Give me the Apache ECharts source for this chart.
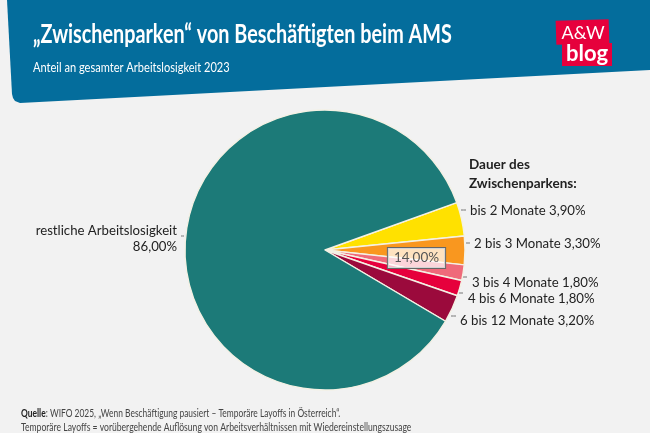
<!DOCTYPE html>
<html>
<head>
<meta charset="utf-8">
<script src="https://cdn.jsdelivr.net/npm/echarts@6/dist/echarts.min.js"></script>
<style>
html,body{margin:0;padding:0;background:#f2f2f2;}
#main{width:650px;height:433px;}
</style>
</head>
<body>
<div id="main"></div>
<script>
var categories = ['bis 2 Monate','2 bis 3 Monate','3 bis 4 Monate','4 bis 6 Monate','6 bis 12 Monate','restliche Arbeitslosigkeit'];
var shares = [3.9,3.3,1.8,1.8,3.2,86];
var colors = ['#ffe100','#f9971f','#ef6a7a','#e6003c','#9b0a3c','#1c7a78'];
var groupShare = 14;

var bodyFont = 'Lato';

// label anchor and tick per slice, in page pixels
var labelSpots = [
	{x:470,y:211,tick:[461,466,210]},
	{x:474,y:244,tick:[466,470,243]},
	{x:472,y:283,tick:[463,467,277]},
	{x:468,y:299,tick:[459,463,293]},
	{x:460,y:321,tick:[451,456,316]},
	{x:177,y:239,align:'right',tick:[181,184,236]}
];

function pct(v){
	return v.toFixed(2).replace('.',',') + '%';
}

var pieData = categories.map(function(name,i){
	return {
		name:name,
		value:shares[i],
		itemStyle:{color:colors[i]},
		label:{align:i==5 ? 'right' : 'left'}
	};
});

var chart = echarts.init(document.getElementById('main'));
chart.setOption({
	animation:false,
	backgroundColor:'#f2f2f2',
	series:[{
		type:'pie',
		center:[325,250],
		radius:[0,140],
		startAngle:19.8,
		clockwise:true,
		data:pieData,
		itemStyle:{borderColor:'#f4f1e4',borderWidth:1.4},
		emphasis:{disabled:true},
		label:{
			show:true,
			position:'outside',
			color:'#222',
			fontFamily:bodyFont,
			fontSize:13.2,
			lineHeight:16,
			formatter:function(p){
				return p.name + (p.dataIndex==5 ? '\n' : ' ') + pct(p.value);
			}
		},
		labelLine:{show:true,length:3,length2:3,lineStyle:{color:'#777',width:1}},
		labelLayout:function(p){
			var s = labelSpots[p.dataIndex];
			return {
				x:s.x,
				y:s.y,
				align:s.align || 'left',
				verticalAlign:'middle',
				labelLinePoints:[[s.tick[0],s.tick[2]],[(s.tick[0]+s.tick[1])/2,s.tick[2]],[s.tick[1],s.tick[2]]]
			};
		}
	}],
	graphic:[{
		type:'polygon',
		z:1,
		shape:{points:[[7,0],[12,94],[13,98],[15,101],[20,103],[650,70],[650,0]]},
		style:{fill:'#046d9c'}
	},{
		// no narrow font installed, so the header and footer text is squeezed
		type:'text',
		z:6,
		x:33,y:34,scaleX:0.747,
		style:{text:'„Zwischenparken“ von Beschäftigten beim AMS',fill:'#fff',font:'bold 26.5px '+bodyFont,verticalAlign:'middle'}
	},{
		type:'text',
		z:6,
		x:33,y:67,scaleX:0.79,
		style:{text:'Anteil an gesamter Arbeitslosigkeit 2023',fill:'#fff',font:'14px '+bodyFont,verticalAlign:'middle'}
	},{
		type:'rect',
		z:5,
		rotation:0.03,
		originX:582,
		originY:32,
		shape:{x:556,y:20,width:53,height:24},
		style:{fill:'#e6003c'}
	},{
		type:'rect',
		z:5,
		shape:{x:562,y:43,width:50,height:23},
		style:{fill:'#e6003c'}
	},{
		type:'text',
		z:6,
		style:{x:583,y:33,text:'A&W',fill:'#fff',font:'18px '+bodyFont,align:'center',verticalAlign:'middle'}
	},{
		type:'text',
		z:6,
		style:{x:587,y:54,text:'blog',fill:'#fff',font:'bold 22px '+bodyFont,align:'center',verticalAlign:'middle'}
	},{
		type:'text',
		z:6,
		style:{x:469,y:174,text:'Dauer des\nZwischenparkens:',fill:'#222',font:'bold 13.5px '+bodyFont,lineHeight:19,verticalAlign:'middle'}
	},{
		type:'text',
		z:20,
		style:{
			x:416.5,y:258,
			text:pct(groupShare),
			fill:'#555',
			font:'13.5px '+bodyFont,
			align:'center',
			verticalAlign:'middle',
			backgroundColor:'rgba(255,255,255,0.72)',
			borderColor:'#666',
			borderWidth:1,
			padding:[3,6]
		}
	},{
		type:'text',
		z:6,
		x:21,y:413,scaleX:0.765,
		style:{
			text:'{b|Quelle}: WIFO 2025, „Wenn Beschäftigung pausiert – Temporäre Layoffs in Österreich“.',
			fill:'#444',
			font:'11px '+bodyFont,
			verticalAlign:'middle',
			rich:{b:{fontWeight:'bold',fontSize:11,fontFamily:bodyFont,fill:'#222'}}
		}
	},{
		type:'text',
		z:6,
		x:21,y:427,scaleX:0.78,
		style:{
			text:'Temporäre Layoffs = vorübergehende Auflösung von Arbeitsverhältnissen mit Wiedereinstellungszusage',
			fill:'#444',
			font:'11px '+bodyFont,
			verticalAlign:'middle'
		}
	}]
});
window.onresize = chart.resize;
</script>
</body>
</html>
